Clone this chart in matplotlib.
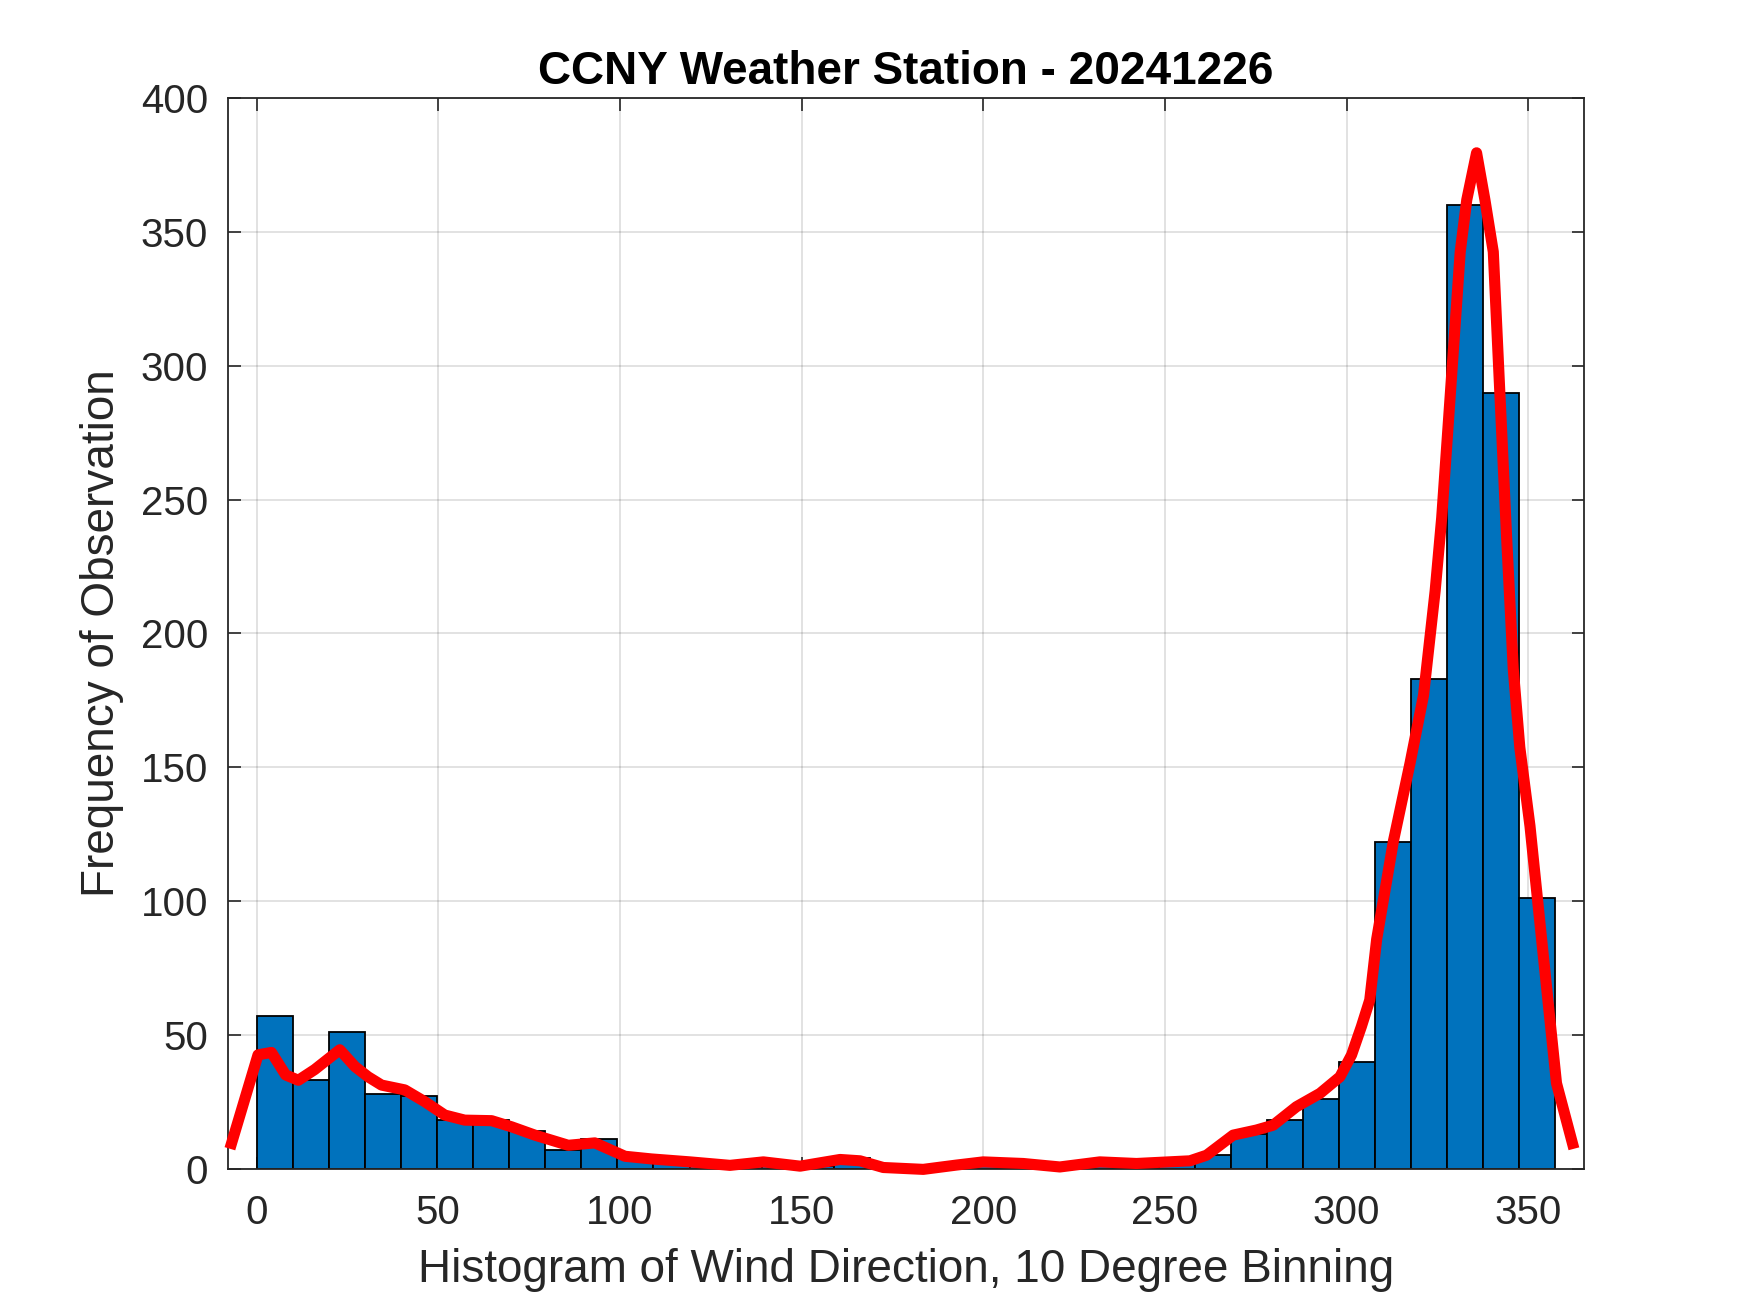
import matplotlib

matplotlib.use("Agg")
import matplotlib.pyplot as plt
import numpy as np

# histogram counts, 36 bins spanning 0 .. 357.5 degrees
bin_lo = 0.0
bin_hi = 357.5
counts = [57, 33, 51, 28, 27, 18, 18, 14, 7, 11,
          4, 2, 1, 1, 2, 1, 4, 0, 0, 1,
          2, 1, 0, 2, 1, 2, 5, 13, 18, 26,
          40, 122, 183, 360, 290, 101]

# red smoothed curve
curve_x = [-6.9, 0.4, 4.1, 8.0, 11.5, 16.0, 22.9, 27.1, 30.7, 34.4,
           40.8, 46.3, 51.8, 57.3, 64.7, 70.2, 76.6, 85.8, 93.1, 101.4,
           108.7, 119.3, 130.3, 139.5, 149.6, 160.6, 166.1, 172.5, 183.5, 192.6,
           200.0, 211.0, 221.1, 232.1, 242.2, 256.9, 261.5, 268.8, 275.2, 279.8,
           286.2, 292.7, 298.2, 301.4, 304.1, 306.4, 308.3, 312.9, 317.5, 321.2,
           324.4, 326.2, 328.5, 331.3, 333.1, 335.8, 338.1, 340.4, 342.2, 344.1,
           345.9, 347.7, 350.5, 353.7, 357.8, 362.2]
curve_y = [9.4, 42.5, 43.4, 35.0, 33.0, 37.0, 44.4, 38.1, 34.3, 31.2,
           29.4, 25.0, 20.0, 18.1, 17.9, 15.6, 12.5, 8.7, 9.6, 4.6,
           3.6, 2.5, 1.2, 2.5, 0.9, 3.4, 2.9, 0.4, -0.3, 1.3,
           2.5, 1.9, 0.6, 2.5, 1.9, 2.9, 5.0, 12.5, 14.4, 16.2,
           23.1, 28.1, 34.3, 42.5, 53.1, 63.0, 85.7, 122.3, 151.6, 176.9,
           215.9, 243.2, 288.0, 342.6, 362.0, 379.6, 362.0, 342.6, 290.0, 235.0,
           186.7, 157.4, 128.0, 85.7, 31.9, 9.4]

edges = np.linspace(bin_lo, bin_hi, len(counts) + 1)
widths = np.diff(edges)

plt.rcParams["font.family"] = ["Liberation Sans", "DejaVu Sans"]
axis_grey = (0.15, 0.15, 0.15)

fig = plt.figure(figsize=(17.5, 13.13), dpi=100)
ax = fig.add_axes([0.13, 0.11, 0.775, 0.8152])

ax.bar(edges[:-1], counts, width=widths, align="edge",
       color=(0, 0.447, 0.741), edgecolor="black", linewidth=1.3, zorder=2)
ax.plot(curve_x, curve_y, color="red", linewidth=8, zorder=3,
        solid_joinstyle="round", clip_on=False)

ax.set_xlim(-8, 365.3)
ax.set_ylim(0, 400)
ax.set_xticks(np.arange(0, 351, 50))
ax.set_yticks(np.arange(0, 401, 50))

ax.grid(True, color=(0.15, 0.15, 0.15), alpha=0.15, linewidth=1.3, zorder=0)
ax.set_axisbelow(True)
ax.tick_params(direction="in", length=9, width=1.2, colors=axis_grey,
               labelsize=29, top=True, right=True)
ax.tick_params(axis="x", pad=18)
ax.tick_params(axis="y", pad=14)
for s in ax.spines.values():
    s.set_color(axis_grey)
    s.set_linewidth(1.3)

ax.set_title("CCNY Weather Station - 20241226", fontsize=33,
             fontweight="bold", color="black", pad=10)
ax.set_xlabel("Histogram of Wind Direction, 10 Degree Binning",
              fontsize=33, color=axis_grey, labelpad=12)
ax.set_ylabel("Frequency of Observation", fontsize=33, color=axis_grey,
              labelpad=12)

fig.savefig("out.png", dpi=100, facecolor="white")
